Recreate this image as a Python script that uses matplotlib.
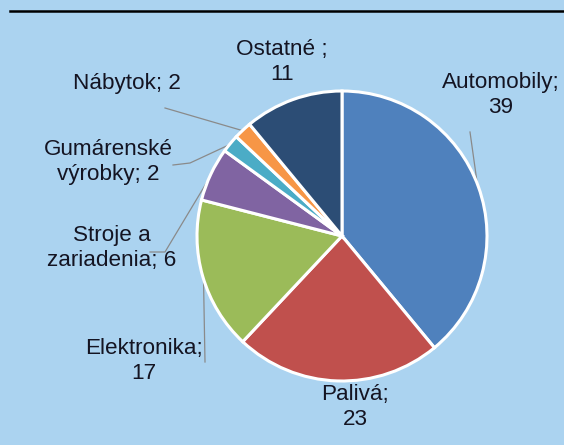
import numpy as np
import matplotlib
matplotlib.use("Agg")
import matplotlib.pyplot as plt
from matplotlib.lines import Line2D

# Data
categories = ["Automobily", "Palivá", "Elektronika", "Stroje a zariadenia",
              "Gumárenské výrobky", "Nábytok", "Ostatné"]
values = [39, 23, 17, 6, 2, 2, 11]
labels = ["Automobily;\n39", "Palivá;\n23", "Elektronika;\n17", "Stroje a\nzariadenia; 6",
          "Gumárenské\nvýrobky; 2", "Nábytok; 2", "Ostatné ;\n11"]
colors = ["#4f81bd", "#c0504d", "#9bbb59", "#8064a2", "#4bacc6", "#f79646", "#2c4d75"]

W, H = 564, 445
BG = "#abd3f0"
fig = plt.figure(figsize=(W / 100, H / 100), dpi=100)
fig.patch.set_facecolor(BG)

cx, cy, R = 342, 236, 145  # pie centre & radius in pixels
ax = fig.add_axes([(cx - R) / W, (H - cy - R) / H, 2 * R / W, 2 * R / H])

wedges, _ = ax.pie(values, colors=colors, startangle=90, counterclock=False, radius=1,
                   wedgeprops=dict(edgecolor="white", linewidth=2.2))
ax.set_xlim(-1, 1)
ax.set_ylim(-1, 1)
ax.set_aspect("equal")
ax.axis("off")

def px2d(px, py):
    return (px - cx) / R, (cy - py) / R

# label centre positions (pixels) and optional leader elbow points
label_pos = {
    0: (501, 95), 1: (355, 407), 2: (144, 361), 3: (112, 248),
    4: (108, 162), 5: (127, 84), 6: (282, 62),
}
leader = {
    0: [(470, 132)],
    2: [(205, 362)],
    3: [(150, 252), (165, 252)],
    4: [(173, 165), (190, 163)],
    5: [(165, 108)],
}

tcol = "#141422"
for i, w in enumerate(wedges):
    x, y = px2d(*label_pos[i])
    ax.text(x, y, labels[i], ha="center", va="center", fontsize=16.2,
            family=["Liberation Sans", "DejaVu Sans"], color=tcol, linespacing=1.25)
    if i in leader:
        mid = np.deg2rad((w.theta1 + w.theta2) / 2)
        ex, ey = np.cos(mid) * 0.995, np.sin(mid) * 0.995
        pts = [px2d(*p) for p in leader[i]] + [(ex, ey)]
        xs, ys = zip(*pts)
        ax.plot(xs, ys, color="#8a8a8a", lw=0.9, clip_on=False, zorder=0.5)

# top black rule
fig.add_artist(Line2D([10 / W, 1.0], [1 - 11 / H, 1 - 11 / H], color="black", lw=1.8))

fig.savefig("out.png", dpi=100, facecolor=BG)
